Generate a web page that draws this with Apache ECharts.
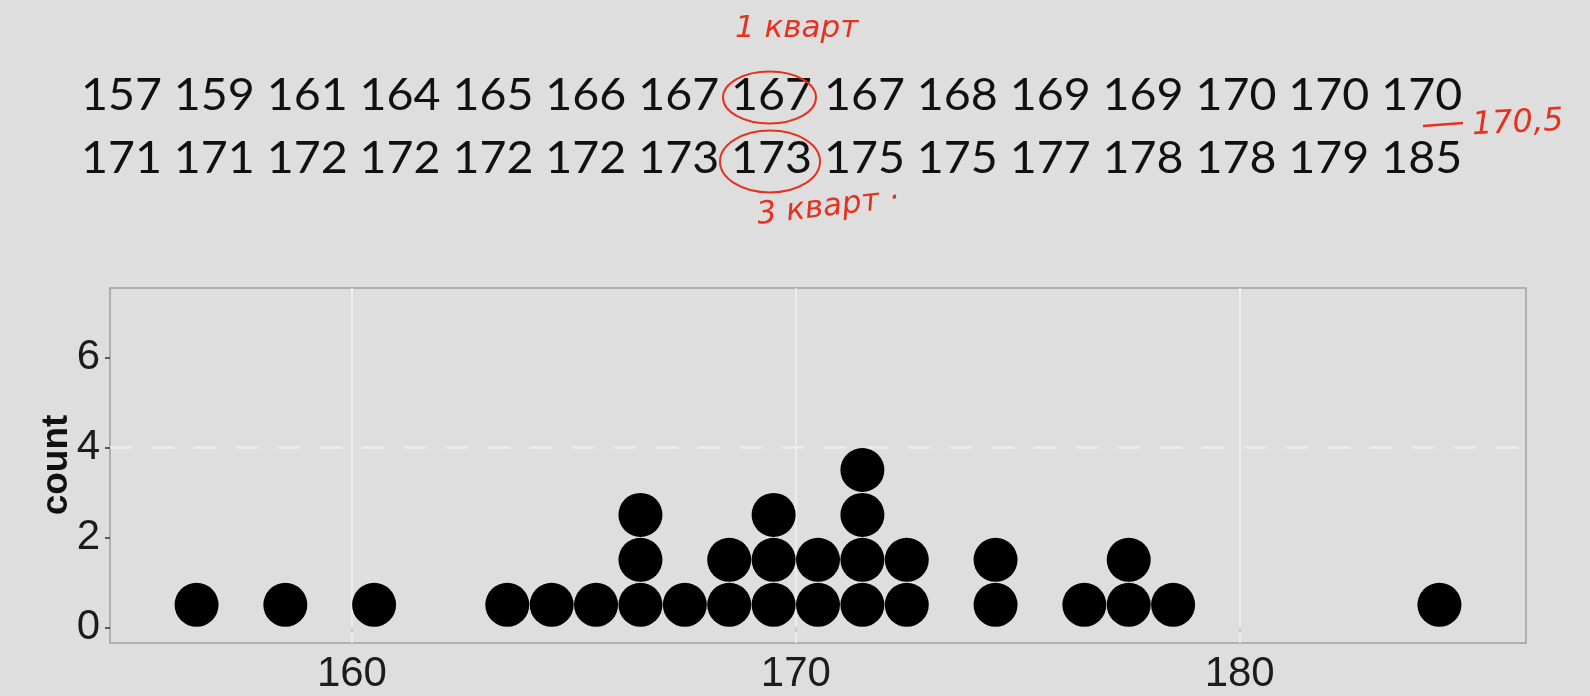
<!DOCTYPE html>
<html><head><meta charset="utf-8">
<script src="https://cdn.jsdelivr.net/npm/echarts@6/dist/echarts.min.js"></script>
<style>html,body{margin:0;padding:0;background:#dedede;} #c{width:1590px;height:696px;}</style>
</head><body><div id="c"></div>
<script>
// ---- data ----
const heights = [157,159,161,164,165,166,167,167,167,168,169,169,170,170,170,
                 171,171,172,172,172,172,173,173,175,175,177,178,178,179,185];
const xTicks = [160, 170, 180];
const yTicks = [0, 2, 4, 6];
const xRange = [154.55, 186.45];
const yRange = [-0.35, 7.55];
const binwidth = 1;
const refLineY = [4];
const yTitle = 'count';
const annQ1 = '1 кварт';
const annQ3 = '3 кварт ·';
const annMedian = '170,5';

// ---- histodot binning (right-closed bins) and stacking ----
const counts = {};
const dots = [];
heights.forEach(v => {
  const center = Math.ceil(v / binwidth) * binwidth - binwidth / 2;
  const k = counts[center] || 0;
  counts[center] = k + 1;
  dots.push([center, k + 0.5]);
});

const row1 = heights.slice(0, 15).join(' ');
const row2 = heights.slice(15).join(' ');
const RED = '#e5321f';

const chart = echarts.init(document.getElementById('c'), null, {renderer: 'canvas'});
const option = {
  backgroundColor: '#dedede',
  animation: false,
  grid: {left: 110, top: 288, right: 64, bottom: 53, show: true,
         borderColor: '#a0a0a0', borderWidth: 1.5, backgroundColor: 'transparent'},
  xAxis: {
    type: 'value', min: xRange[0], max: xRange[1], splitNumber: 3,
    axisLine: {show: false}, splitLine: {show: false},
    axisTick: {show: true, customValues: xTicks, length: 5, lineStyle: {color: '#333', width: 1.5}},
    axisLabel: {customValues: xTicks, fontFamily: 'Liberation Sans', fontSize: 42, color: '#1c1c1c', margin: 10}
  },
  yAxis: {
    type: 'value', min: yRange[0], max: yRange[1],
    axisLine: {show: false}, splitLine: {show: false},
    axisTick: {show: true, customValues: yTicks, length: 5, lineStyle: {color: '#333', width: 1.5}},
    axisLabel: {customValues: yTicks, fontFamily: 'Liberation Sans', fontSize: 42, color: '#1c1c1c', margin: 10}
  },
  series: [{
    type: 'scatter', data: dots, symbol: 'circle', symbolSize: 44,
    itemStyle: {color: '#000', opacity: 1}, z: 3,
    markLine: {
      silent: true, symbol: 'none', label: {show: false}, z: 1, animation: false,
      data: [
        ...xTicks.map(v => ({xAxis: v, lineStyle: {color: '#f1f1f1', width: 1.5, type: 'solid'}})),
        ...refLineY.map(v => ({yAxis: v, lineStyle: {color: '#ececec', width: 2.5, type: [22, 20]}}))
      ]
    }
  }],
  graphic: [
    {type: 'text', x: 57, y: 465, rotation: Math.PI / 2, style: {text: yTitle, font: 'bold 37px "Liberation Sans"', fill: '#111', align: 'center', verticalAlign: 'middle'}},
    {type: 'text', x: 81, y: 95, scaleX: 1.034, style: {text: row1, font: '45px Lato', fill: '#111', align: 'left', verticalAlign: 'middle'}},
    {type: 'text', x: 81, y: 158, scaleX: 1.034, style: {text: row2, font: '45px Lato', fill: '#111', align: 'left', verticalAlign: 'middle'}},
    {type: 'ellipse', shape: {cx: 769.5, cy: 97.5, rx: 46.5, ry: 26}, style: {fill: 'none', stroke: RED, lineWidth: 2}},
    {type: 'ellipse', shape: {cx: 770, cy: 161.5, rx: 50, ry: 31}, style: {fill: 'none', stroke: RED, lineWidth: 2}},
    {type: 'text', x: 735, y: 29, style: {text: annQ1, font: 'italic 31px "DejaVu Sans"', fill: RED, align: 'left', verticalAlign: 'middle'}},
    {type: 'text', x: 757, y: 216, rotation: 0.12, style: {text: annQ3, font: 'italic 31px "DejaVu Sans"', fill: RED, align: 'left', verticalAlign: 'middle'}},
    {type: 'line', shape: {x1: 1423, y1: 126, x2: 1463, y2: 123}, style: {stroke: RED, lineWidth: 2.5}},
    {type: 'text', x: 1472, y: 126, rotation: 0.05, style: {text: annMedian, font: 'italic 32px "DejaVu Sans"', fill: RED, align: 'left', verticalAlign: 'middle'}}
  ]
};
chart.setOption(option);
</script>
</body></html>
